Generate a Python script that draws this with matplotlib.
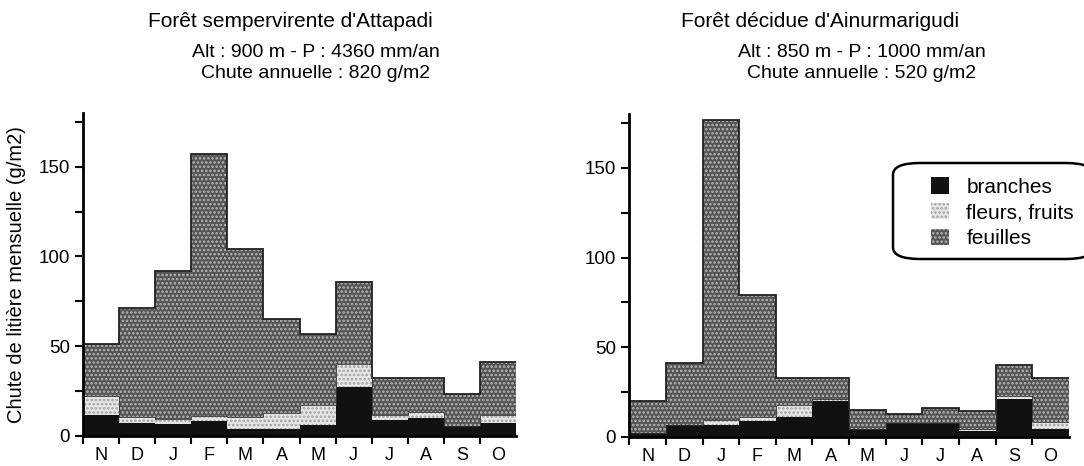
import matplotlib.pyplot as plt
import numpy as np
from matplotlib.patches import Patch, FancyBboxPatch

plt.rcParams['font.family'] = ['Liberation Sans', 'DejaVu Sans']
plt.rcParams['hatch.linewidth'] = 1.2

# Données
mois = ['N', 'D', 'J', 'F', 'M', 'A', 'M', 'J', 'J', 'A', 'S', 'O']

# Forêt sempervirente d'Attapadi
branches_a = [11.5, 7, 6.5, 8, 4, 4, 6, 27, 8.5, 10, 5.5, 7]
fleurs_a = [10.5, 3.5, 3, 3, 6.5, 8.5, 11, 13, 3, 3.5, 0, 4.5]
feuilles_a = [29, 60.5, 82.5, 146, 93.5, 52.5, 40, 46, 20.5, 18.5, 17.5, 29.5]

# Forêt décidue d'Ainurmarigudi
branches_b = [2, 6.5, 6.5, 9, 11, 20, 4.5, 7.5, 7.5, 3, 21, 4.5]
fleurs_b = [0, 0, 3, 2, 7, 1, 0, 0, 0, 1.5, 2, 4]
feuilles_b = [18, 34.5, 167.5, 68, 15, 12, 10.5, 5.5, 8.5, 10, 17, 24.5]

titres = [
    ("Forêt sempervirente d'Attapadi", "Alt : 900 m - P : 4360 mm/an", "Chute annuelle : 820 g/m2"),
    ("Forêt décidue d'Ainurmarigudi", "Alt : 850 m - P : 1000 mm/an", "Chute annuelle : 520 g/m2"),
]

# Styles des composantes (fond, couleur de la trame)
styles = {
    'branches': dict(color='#111111', hatch=None, hcol=None),
    'fleurs': dict(color='#e6e6e6', hatch='....', hcol='#a0a0a0'),
    'feuilles': dict(color='#555555', hatch='....', hcol='#b8b8b8'),
}

fig = plt.figure(figsize=(10.84, 4.66), dpi=100)
ax1 = fig.add_axes([0.0766, 0.065, 0.3994, 0.6925])
ax2 = fig.add_axes([0.5805, 0.0625, 0.4055, 0.6925])


def couche(ax, x, h, bas, nom):
    st = styles[nom]
    ax.bar(x, h, width=1.0, bottom=bas, color=st['color'], linewidth=0, zorder=2)
    if st['hatch']:
        ax.bar(x, h, width=1.0, bottom=bas, facecolor='none', edgecolor=st['hcol'],
               hatch=st['hatch'], linewidth=0, zorder=3)


def panneau(ax, br, fl, fe):
    x = np.arange(len(mois))
    br = np.array(br)
    fl = np.array(fl)
    fe = np.array(fe)
    couche(ax, x, br, 0, 'branches')
    couche(ax, x, fl, br, 'fleurs')
    couche(ax, x, fe, br + fl, 'feuilles')
    total = br + fl + fe
    bords = np.arange(len(mois) + 1) - 0.5
    ax.stairs(total, bords, color='#222222', linewidth=1.3, baseline=None, zorder=4)
    ax.stairs(br + fl, bords, color='#333333', linewidth=0.6, baseline=None, zorder=4)

    ax.set_xlim(-0.5, 11.5)
    ax.set_ylim(0, 180)
    for s in ['top', 'right']:
        ax.spines[s].set_visible(False)
    for s in ['left', 'bottom']:
        ax.spines[s].set_linewidth(2)
        ax.spines[s].set_zorder(5)

    ax.set_xticks(bords[:-1])
    ax.set_xticklabels([])
    ax.set_xticks(x, minor=True)
    ax.set_xticklabels(mois, minor=True, fontsize=13)
    ax.tick_params(axis='x', which='major', direction='out', length=6, width=1.5)
    ax.tick_params(axis='x', which='minor', length=0, pad=8)

    ax.set_yticks([0, 50, 100, 150])
    ax.set_yticks([25, 75, 125, 175], minor=True)
    ax.tick_params(axis='y', which='both', direction='out', length=6, width=1.5, labelsize=13.5)


panneau(ax1, branches_a, fleurs_a, feuilles_a)
panneau(ax2, branches_b, fleurs_b, feuilles_b)

ax1.set_ylabel('Chute de litière mensuelle (g/m2)', fontsize=14.5, labelpad=9)

# Titres
fig.text(290 / 1084, 0.941, titres[0][0], ha='center', va='baseline', fontsize=15)
fig.text(316 / 1084, 0.878, titres[0][1], ha='center', va='baseline', fontsize=14)
fig.text(316 / 1084, 0.832, titres[0][2], ha='center', va='baseline', fontsize=14)
fig.text(820 / 1084, 0.941, titres[1][0], ha='center', va='baseline', fontsize=15)
fig.text(862 / 1084, 0.878, titres[1][1], ha='center', va='baseline', fontsize=14)
fig.text(862 / 1084, 0.832, titres[1][2], ha='center', va='baseline', fontsize=14)

# Cadre arrondi de la légende
cadre = FancyBboxPatch((893 / 1084, 1 - 259 / 466), 200 / 1084, 96 / 466,
                       boxstyle='round,pad=0,rounding_size=0.025',
                       transform=fig.transFigure, facecolor='white',
                       edgecolor='black', linewidth=1.8, zorder=5)
fig.patches.append(cadre)

# Légende
poignees = []
for nom, lab in [('branches', 'branches'), ('fleurs', 'fleurs, fruits'), ('feuilles', 'feuilles')]:
    st = styles[nom]
    poignees.append(Patch(facecolor=st['color'], edgecolor=st['hcol'] or st['color'],
                          hatch=st['hatch'], linewidth=0, label=lab))
leg = fig.legend(handles=poignees, loc='upper left', bbox_to_anchor=(931 / 1084, 1 - 177 / 466),
                 bbox_transform=fig.transFigure, fontsize=15, frameon=False,
                 handlelength=0.85, handleheight=0.85,
                 handletextpad=0.85, labelspacing=0.3, borderpad=0, borderaxespad=0)
leg.set_zorder(6)

fig.savefig('out.png', dpi=100)
